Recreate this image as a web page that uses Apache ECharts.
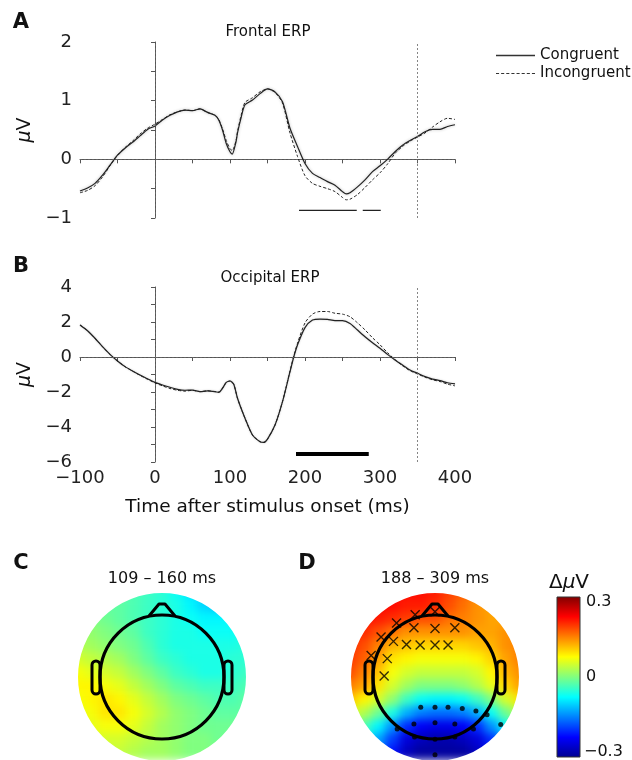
<!DOCTYPE html>
<html>
<head>
<meta charset="utf-8" />
<title>ERP figure</title>
<script src="https://cdn.jsdelivr.net/npm/echarts@6/dist/echarts.min.js"></script>
<style>
* { margin: 0; padding: 0; }
body { background: #fff; }
#wrap { position: relative; width: 632px; height: 760px; overflow: hidden; }
#topo-layer, #chart-container { position: absolute; left: 0; top: 0; width: 632px; height: 760px; }
#topo-layer { filter: blur(4px); }
</style>
</head>
<body>
<div id="wrap">
  <div id="topo-layer"></div>
  <div id="chart-container"></div>
</div>
<script>
// ---- panel A: frontal ERP (ms, microvolts)
var timeA = [-100,-90,-80,-70,-60,-50,-40,-30,-20,-10,0,10,20,30,40,50,60,70,80,85,90,95,100,103,108,110,115,120,
  130,140,150,160,170,180,190,200,210,220,230,240,250,255,260,270,280,290,300,310,320,330,340,350,360,370,380,390,400];
var congruentA = [-0.54,-0.49,-0.41,-0.27,-0.10,0.07,0.19,0.29,0.40,0.51,0.57,0.67,0.75,0.81,0.84,0.83,0.86,0.80,0.75,0.67,0.50,0.27,0.13,0.09,0.30,0.45,0.72,0.93,
  1.01,1.12,1.20,1.15,0.98,0.53,0.22,-0.07,-0.24,-0.31,-0.38,-0.44,-0.55,-0.59,-0.57,-0.47,-0.35,-0.21,-0.11,0.00,0.13,0.24,0.32,0.39,0.47,0.51,0.51,0.56,0.59];
var incongruentA = [-0.57,-0.53,-0.45,-0.30,-0.11,0.07,0.20,0.31,0.43,0.53,0.60,0.68,0.76,0.81,0.84,0.83,0.86,0.80,0.75,0.68,0.52,0.32,0.18,0.15,0.32,0.47,0.76,0.97,
  1.05,1.15,1.20,1.14,0.96,0.45,0.05,-0.28,-0.41,-0.46,-0.50,-0.55,-0.65,-0.69,-0.68,-0.60,-0.48,-0.35,-0.23,-0.08,0.10,0.22,0.31,0.38,0.45,0.55,0.64,0.70,0.68];
var sigA = [[192, -0.87], [269, -0.87], null, [277, -0.87], [301, -0.87]];

// ---- panel B: occipital ERP
var timeB = [-100,-90,-80,-70,-60,-50,-40,-30,-20,-10,0,10,20,30,40,50,60,70,80,85,90,95,100,105,110,
  120,130,140,145,150,160,170,180,185,190,200,210,220,230,240,250,260,270,280,290,300,310,320,330,340,350,360,370,380,390,400];
var congruentB = [1.83,1.5,1.07,0.59,0.15,-0.23,-0.55,-0.8,-1.03,-1.24,-1.45,-1.6,-1.73,-1.85,-1.9,-1.89,-1.98,-1.94,-1.98,-2.02,-1.79,-1.45,-1.37,-1.56,-2.36,
  -3.5,-4.46,-4.84,-4.88,-4.69,-3.89,-2.55,-0.84,0.0,0.69,1.68,2.11,2.17,2.15,2.08,2.08,1.92,1.54,1.16,0.82,0.5,0.15,-0.17,-0.46,-0.74,-0.93,-1.12,-1.26,-1.35,-1.47,-1.54];
var incongruentB = [1.83,1.5,1.07,0.59,0.15,-0.23,-0.55,-0.8,-1.05,-1.27,-1.48,-1.65,-1.8,-1.9,-1.95,-1.9,-1.98,-1.93,-1.98,-2.0,-1.78,-1.45,-1.37,-1.56,-2.36,
  -3.5,-4.46,-4.84,-4.88,-4.69,-3.89,-2.55,-0.8,0.05,0.78,1.95,2.45,2.6,2.6,2.5,2.45,2.3,1.95,1.55,1.1,0.7,0.25,-0.15,-0.5,-0.78,-0.97,-1.15,-1.3,-1.4,-1.55,-1.65];
var sigB = [[188, -5.54], [285, -5.54]];

// ---- panels C and D: scalp maps (difference, microvolts), rows top -> bottom
var topoC = [
  [-0.02,-0.02,-0.02,-0.02,-0.03,-0.04,-0.05,-0.07,-0.09,-0.10,-0.11,-0.11,-0.10],
  [0.00,-0.01,-0.02,-0.02,-0.03,-0.04,-0.05,-0.06,-0.08,-0.10,-0.11,-0.10,-0.09],
  [0.01,0.00,-0.01,-0.02,-0.03,-0.04,-0.05,-0.06,-0.07,-0.08,-0.08,-0.08,-0.07],
  [0.02,0.01,0.00,-0.01,-0.02,-0.04,-0.05,-0.06,-0.06,-0.07,-0.07,-0.07,-0.06],
  [0.03,0.02,0.01,0.00,-0.01,-0.03,-0.05,-0.06,-0.06,-0.06,-0.06,-0.06,-0.05],
  [0.05,0.04,0.03,0.02,0.00,-0.02,-0.04,-0.05,-0.06,-0.06,-0.06,-0.05,-0.05],
  [0.07,0.06,0.05,0.04,0.02,0.00,-0.02,-0.04,-0.05,-0.06,-0.06,-0.05,-0.04],
  [0.08,0.08,0.07,0.06,0.04,0.02,0.00,-0.02,-0.03,-0.04,-0.04,-0.04,-0.03],
  [0.07,0.08,0.09,0.08,0.06,0.04,0.02,0.00,-0.01,-0.02,-0.03,-0.03,-0.02],
  [0.06,0.07,0.09,0.09,0.07,0.05,0.03,0.01,0.00,-0.01,-0.02,-0.02,-0.02],
  [0.05,0.06,0.07,0.07,0.06,0.04,0.02,0.01,0.00,-0.01,-0.01,-0.01,-0.01],
  [0.04,0.05,0.05,0.05,0.04,0.03,0.02,0.01,0.00,0.00,-0.01,-0.01,-0.01],
  [0.03,0.04,0.04,0.04,0.03,0.02,0.02,0.01,0.00,0.00,0.00,0.00,0.00]
];
var topoD = [
  [0.24,0.24,0.24,0.23,0.22,0.22,0.21,0.19,0.17,0.15,0.14,0.14,0.15],
  [0.24,0.23,0.23,0.22,0.21,0.21,0.20,0.18,0.16,0.14,0.13,0.13,0.14],
  [0.23,0.22,0.21,0.20,0.19,0.18,0.18,0.16,0.15,0.14,0.13,0.13,0.14],
  [0.21,0.20,0.18,0.16,0.14,0.14,0.14,0.14,0.14,0.13,0.13,0.14,0.15],
  [0.20,0.18,0.15,0.12,0.11,0.10,0.10,0.10,0.10,0.11,0.12,0.14,0.15],
  [0.19,0.17,0.13,0.09,0.08,0.07,0.07,0.07,0.07,0.08,0.10,0.13,0.15],
  [0.18,0.15,0.11,0.07,0.05,0.04,0.04,0.04,0.04,0.05,0.08,0.12,0.14],
  [0.15,0.13,0.09,0.05,0.02,0.00,0.00,0.00,0.01,0.03,0.06,0.10,0.13],
  [0.11,0.08,0.05,0.01,-0.04,-0.07,-0.08,-0.08,-0.07,-0.04,0.00,0.05,0.09],
  [0.06,0.03,-0.01,-0.06,-0.12,-0.15,-0.16,-0.16,-0.15,-0.12,-0.07,-0.01,0.04],
  [0.02,-0.03,-0.08,-0.14,-0.20,-0.23,-0.24,-0.24,-0.23,-0.20,-0.14,-0.08,-0.02],
  [-0.02,-0.07,-0.13,-0.19,-0.25,-0.27,-0.28,-0.28,-0.27,-0.25,-0.20,-0.13,-0.07],
  [-0.05,-0.10,-0.16,-0.22,-0.27,-0.29,-0.29,-0.29,-0.29,-0.27,-0.23,-0.17,-0.10]
];
// electrode positions in head-radius units (x right, y up)
var crossSites = [[-0.32,1.0],[0.0,1.05],[-0.62,0.87],[-0.34,0.79],[0.0,0.78],[0.32,0.79],[-0.87,0.64],[-0.67,0.57],
  [-0.46,0.52],[-0.24,0.51],[0.0,0.51],[0.21,0.51],[-1.03,0.34],[-0.77,0.29],[-0.82,0.01]];
var dotSites = [[-0.23,-0.50],[0.0,-0.50],[0.21,-0.50],[0.44,-0.52],[0.66,-0.56],[0.84,-0.62],[1.06,-0.78],[-0.34,-0.77],
  [0.0,-0.75],[0.32,-0.77],[0.62,-0.85],[-0.61,-0.85],[-0.33,-0.98],[0.0,-1.02],[0.32,-0.98],[0.0,-1.27]];

var jet = ['#00008f','#0000ff','#0080ff','#00ffff','#80ff80','#ffff00','#ff8000','#ff0000','#800000'];
var FONT = 'DejaVu Sans';

// layout
var plotLeft = 80, plotW = 375;
var headY = 677, headCX = [162, 435], diskR = 84, headR = 62;

function pairs(t, v) {
  return t.map(function (x, i) { return [x, v[i]]; });
}
function heatData(g) {
  var out = [];
  g.forEach(function (row, r) {
    row.forEach(function (v, c) { out.push([c, r, v]); });
  });
  return out;
}
var idx = topoC.map(function (_, i) { return i; });
function minus(v) { return String(v).replace('-', '\u2212'); }
function diskGrid(cx, pad) {
  var r = diskR + (pad || 0);
  return { left: cx - r, top: headY - r, width: 2 * r, height: 2 * r };
}

// ---- scalp map layer (softened by the css blur on its container)
var topoChart = echarts.init(document.getElementById('topo-layer'), null, { renderer: 'canvas' });
topoChart.setOption({
  animation: false,
  grid: [diskGrid(headCX[0], 8), diskGrid(headCX[1], 8)],
  xAxis: [
    { type: 'category', gridIndex: 0, data: idx, show: false },
    { type: 'category', gridIndex: 1, data: idx, show: false }
  ],
  yAxis: [
    { type: 'category', gridIndex: 0, data: idx, show: false, inverse: true },
    { type: 'category', gridIndex: 1, data: idx, show: false, inverse: true }
  ],
  visualMap: { type: 'continuous', show: false, min: -0.3, max: 0.3, inRange: { color: jet } },
  series: [
    { type: 'heatmap', xAxisIndex: 0, yAxisIndex: 0, data: heatData(topoC), silent: true },
    { type: 'heatmap', xAxisIndex: 1, yAxisIndex: 1, data: heatData(topoD), silent: true }
  ]
});

// ---- main layer
var dom = document.getElementById('chart-container');
var myChart = echarts.init(dom, null, { renderer: 'canvas' });

var lineBase = { type: 'line', showSymbol: false, symbol: 'none', smooth: 0.25, animation: false, itemStyle: { color: '#222' } };
var refLines = function () {
  return {
    silent: true, symbol: 'none', label: { show: false }, animation: false,
    lineStyle: { color: '#666', type: [2, 2], width: 0.8 },
    data: [{ xAxis: 0 }, { xAxis: 350 }, { yAxis: 0 }]
  };
};
var axisCommon = {
  axisLine: { lineStyle: { color: '#555', width: 1 } },
  axisTick: { lineStyle: { color: '#555' }, length: 4 },
  splitLine: { show: false }
};

function heads() {
  var els = [];
  headCX.forEach(function (cx) {
    // white ring hides the map outside the disk
    els.push({ type: 'circle', z: 50, shape: { cx: cx, cy: headY, r: diskR + 29 }, style: { fill: 'none', stroke: '#fff', lineWidth: 58 } });
    els.push({ type: 'circle', z: 51, shape: { cx: cx, cy: headY, r: headR }, style: { fill: 'none', stroke: '#000', lineWidth: 3.2 } });
    els.push({ type: 'polyline', z: 51, shape: { points: [[cx - 13, headY - headR + 1], [cx - 3, headY - headR - 11], [cx + 3, headY - headR - 11], [cx + 13, headY - headR + 1]] },
      style: { fill: 'none', stroke: '#000', lineWidth: 3, lineJoin: 'round' } });
    [-1, 1].forEach(function (s) {
      var x = s < 0 ? cx - headR - 8 : cx + headR;
      els.push({ type: 'rect', z: 51, shape: { x: x, y: headY - 16, width: 8, height: 33, r: 4 }, style: { fill: 'none', stroke: '#000', lineWidth: 3 } });
    });
  });
  return els;
}

function txt(x, y, s, size, extra) {
  var st = Object.assign({ text: s, x: x, y: y, font: size + 'px "' + FONT + '"', fill: '#111', align: 'center', verticalAlign: 'middle' }, extra || {});
  return { type: 'text', z: 60, style: st };
}

var graphics = heads().concat([
  txt(21, 23, 'A', 21, { font: 'bold 21px "' + FONT + '"' }),
  txt(21, 267, 'B', 21, { font: 'bold 21px "' + FONT + '"' }),
  txt(21, 564, 'C', 21, { font: 'bold 21px "' + FONT + '"' }),
  txt(307, 564, 'D', 21, { font: 'bold 21px "' + FONT + '"' }),
  txt(268, 32, 'Frontal ERP', 15),
  txt(270, 278, 'Occipital ERP', 15),
  txt(headCX[0], 579, '109 \u2013 160 ms', 16),
  txt(headCX[1], 579, '188 \u2013 309 ms', 16),
  {
    type: 'rect', z: 60, shape: { x: 557, y: 597, width: 23, height: 160 },
    style: {
      stroke: '#333', lineWidth: 1,
      fill: new echarts.graphic.LinearGradient(0, 0, 0, 1, jet.slice().reverse().map(function (c, i) { return { offset: i / 8, color: c }; }))
    }
  },
  txt(586, 602, '0.3', 16, { align: 'left' }),
  txt(586, 677, '0', 16, { align: 'left' }),
  txt(584, 752, '\u22120.3', 16, { align: 'left' }),
  {
    type: 'text', z: 60,
    style: {
      text: '{a|\u0394}{b|\u03bc}{a|V}', x: 569, y: 583, align: 'center', verticalAlign: 'middle',
      rich: { a: { fontSize: 20, fontFamily: FONT, fill: '#111' }, b: { fontSize: 20, fontFamily: FONT, fontStyle: 'italic', fill: '#111' } }
    }
  }
]);

var dashIcon = 'path://M0,0h3v1h-3zM5,0h3v1h-3zM10,0h3v1h-3zM15,0h3v1h-3zM20,0h3v1h-3zM25,0h3v1h-3zM30,0h3v1h-3zM35,0h3v1h-3z';

var option = {
  animation: false,
  textStyle: { fontFamily: FONT },
  legend: {
    data: [
      { name: 'Congruent', icon: 'rect', itemStyle: { color: '#333' } },
      { name: 'Incongruent', icon: dashIcon, itemStyle: { color: '#333' } }
    ],
    orient: 'vertical', left: 491, top: 43,
    itemWidth: 39, itemHeight: 1.3, itemGap: 3, selectedMode: false,
    textStyle: { fontSize: 15, color: '#111', fontFamily: FONT }
  },
  grid: [
    { left: plotLeft, top: 42, width: plotW, height: 176 },
    { left: plotLeft, top: 287, width: plotW, height: 175 },
    diskGrid(headCX[1])
  ],
  xAxis: [
    Object.assign({ type: 'value', gridIndex: 0, min: -100, max: 400, interval: 50, axisLabel: { show: false } }, axisCommon),
    Object.assign({
      type: 'value', gridIndex: 1, min: -100, max: 400, interval: 50,
      axisLabel: { fontSize: 18, color: '#222', margin: 7, formatter: function (v) { return v % 100 === 0 ? minus(v) : ''; } },
      name: 'Time after stimulus onset (ms)', nameLocation: 'middle', nameGap: 36,
      nameTextStyle: { fontSize: 18.5, color: '#111' }
    }, axisCommon),
    { type: 'value', gridIndex: 2, min: -diskR / headR, max: diskR / headR, show: false }
  ],
  yAxis: [
    Object.assign({
      type: 'value', gridIndex: 0, min: -1, max: 2, interval: 0.5,
      axisLabel: { fontSize: 18, color: '#222', margin: 8, formatter: function (v) { return v % 1 === 0 ? minus(v) : ''; } },
      name: '{i|\u03bc}V', nameLocation: 'middle', nameRotate: 90, nameGap: 30,
      nameTextStyle: { fontSize: 19, color: '#111', rich: { i: { fontStyle: 'italic', fontSize: 19 } } }
    }, axisCommon),
    Object.assign({
      type: 'value', gridIndex: 1, min: -6, max: 4, interval: 1,
      axisLabel: { fontSize: 18, color: '#222', margin: 8, formatter: function (v) { return v % 2 === 0 ? minus(v) : ''; } },
      name: '{i|\u03bc}V', nameLocation: 'middle', nameRotate: 90, nameGap: 30,
      nameTextStyle: { fontSize: 19, color: '#111', rich: { i: { fontStyle: 'italic', fontSize: 19 } } }
    }, axisCommon),
    { type: 'value', gridIndex: 2, min: -diskR / headR, max: diskR / headR, show: false }
  ],
  series: [
    Object.assign({}, lineBase, {
      name: 'Congruent', xAxisIndex: 0, yAxisIndex: 0, data: pairs(timeA, congruentA), z: 4,
      lineStyle: { color: '#222', width: 1.2, shadowBlur: 3, shadowColor: 'rgba(0,0,0,0.3)' },
      markLine: refLines()
    }),
    Object.assign({}, lineBase, {
      name: 'Incongruent', xAxisIndex: 0, yAxisIndex: 0, data: pairs(timeA, incongruentA), z: 3,
      lineStyle: { color: '#222', width: 1, type: [3, 2] }
    }),
    Object.assign({}, lineBase, {
      name: 'sigA', xAxisIndex: 0, yAxisIndex: 0, data: sigA, smooth: false, connectNulls: false,
      lineStyle: { color: '#222', width: 1.2 }
    }),
    Object.assign({}, lineBase, {
      name: 'Congruent', xAxisIndex: 1, yAxisIndex: 1, data: pairs(timeB, congruentB), z: 4,
      lineStyle: { color: '#222', width: 1.2, shadowBlur: 2, shadowColor: 'rgba(0,0,0,0.25)' },
      markLine: refLines()
    }),
    Object.assign({}, lineBase, {
      name: 'Incongruent', xAxisIndex: 1, yAxisIndex: 1, data: pairs(timeB, incongruentB), z: 3,
      lineStyle: { color: '#222', width: 1, type: [3, 2] }
    }),
    Object.assign({}, lineBase, {
      name: 'sigB', xAxisIndex: 1, yAxisIndex: 1, data: sigB, smooth: false,
      lineStyle: { color: '#000', width: 4 }
    }),
    {
      type: 'scatter', xAxisIndex: 2, yAxisIndex: 2, data: crossSites, silent: true, z: 10,
      symbol: 'path://M0,0L10,10M10,0L0,10', symbolSize: 9,
      itemStyle: { color: 'none', borderColor: '#000', borderWidth: 1.4 }
    },
    {
      type: 'scatter', xAxisIndex: 2, yAxisIndex: 2, data: dotSites, silent: true, z: 10,
      symbol: 'circle', symbolSize: 5, itemStyle: { color: '#000' }
    }
  ],
  graphic: graphics
};

myChart.setOption(option);
window.addEventListener('resize', function () { myChart.resize(); topoChart.resize(); });
</script>
</body>
</html>
